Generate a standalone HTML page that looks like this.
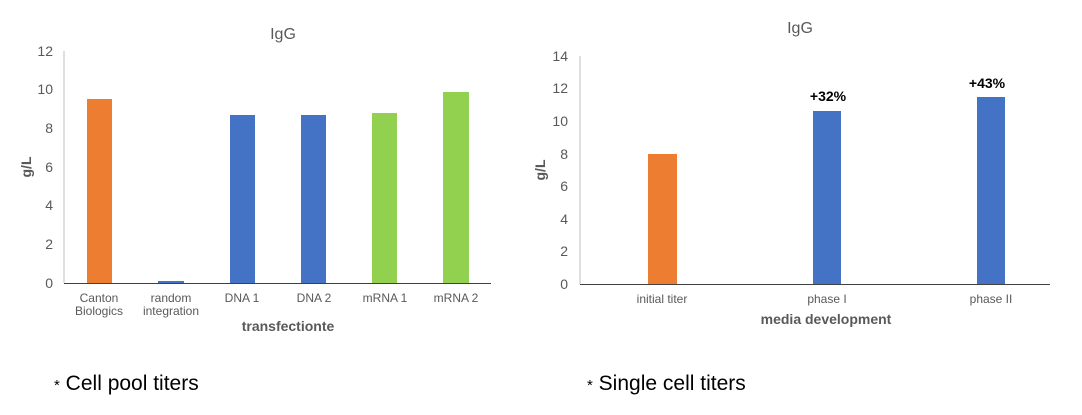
<!DOCTYPE html>
<html><head><meta charset="utf-8"><style>body{margin:0;background:#fff}svg{display:block}text{font-family:"Liberation Sans",sans-serif}</style></head><body>
<svg width="1082" height="415" viewBox="0 0 1082 415">
<g fill="#595959" font-size="14" text-anchor="end">
<text x="283" y="39" font-size="16" text-anchor="middle">IgG</text>
<text x="53" y="56">12</text><text x="53" y="94">10</text><text x="53" y="133">8</text><text x="53" y="172">6</text><text x="53" y="210">4</text><text x="53" y="249">2</text><text x="53" y="288">0</text>
</g>
<line x1="64" y1="51" x2="64" y2="283" stroke="#bfbfbf"/>
<line x1="64" y1="283.5" x2="491" y2="283.5" stroke="#404040"/>
<rect x="87" y="99" width="25" height="184" fill="#ed7d31"/>
<rect x="158" y="281" width="26" height="2" fill="#4472c4"/>
<rect x="230" y="115" width="25" height="168" fill="#4472c4"/>
<rect x="301" y="115" width="25" height="168" fill="#4472c4"/>
<rect x="372" y="113" width="25" height="170" fill="#92d050"/>
<rect x="443" y="92" width="26" height="191" fill="#92d050"/>
<g fill="#595959" font-size="12" text-anchor="middle">
<text x="99" y="302">Canton</text><text x="99" y="315">Biologics</text>
<text x="171" y="302">random</text><text x="171" y="315">integration</text>
<text x="242" y="302">DNA 1</text><text x="314" y="302">DNA 2</text><text x="385" y="302">mRNA 1</text><text x="456" y="302">mRNA 2</text>
<text x="288" y="331" font-size="14" font-weight="bold">transfectionte</text>
<text transform="translate(31,167) rotate(-90)" font-size="14" font-weight="bold">g/L</text>
</g>
<g fill="#595959" font-size="14" text-anchor="end">
<text x="800" y="33" font-size="16" text-anchor="middle">IgG</text>
<text x="568" y="61">14</text><text x="568" y="93">12</text><text x="568" y="126">10</text><text x="568" y="159">8</text><text x="568" y="191">6</text><text x="568" y="224">4</text><text x="568" y="256">2</text><text x="568" y="289">0</text>
</g>
<line x1="580" y1="56" x2="580" y2="284" stroke="#bfbfbf"/>
<line x1="580" y1="284.5" x2="1050" y2="284.5" stroke="#404040"/>
<rect x="648" y="154" width="29" height="130" fill="#ed7d31"/>
<rect x="813" y="111" width="28" height="173" fill="#4472c4"/>
<rect x="977" y="97" width="28" height="187" fill="#4472c4"/>
<g font-size="14" font-weight="bold" text-anchor="middle" fill="#000">
<text x="828" y="101">+32%</text><text x="987" y="88">+43%</text>
</g>
<g fill="#595959" font-size="12" text-anchor="middle">
<text x="662" y="303">initial titer</text><text x="827" y="303">phase I</text><text x="991" y="303">phase II</text>
<text x="826" y="324" font-size="14" font-weight="bold">media development</text>
<text transform="translate(545,170) rotate(-90)" font-size="14" font-weight="bold">g/L</text>
</g>
<g fill="#000" font-size="21">
<text x="54" y="390"><tspan font-size="15">*</tspan> Cell pool titers</text>
<text x="587" y="390"><tspan font-size="15">*</tspan> Single cell titers</text>
</g>
</svg>
</body></html>
